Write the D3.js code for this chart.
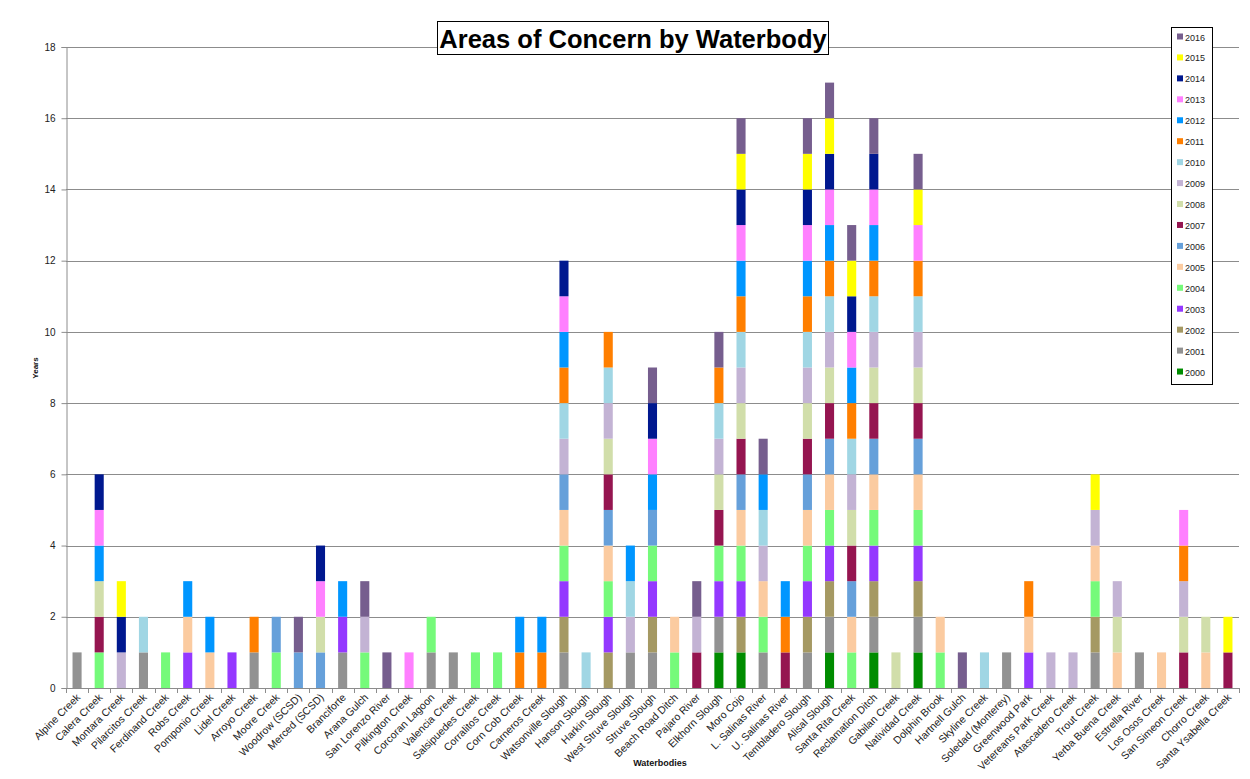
<!DOCTYPE html>
<html><head><meta charset="utf-8">
<script src="https://cdn.jsdelivr.net/npm/d3@7"></script>
<style>
html,body{margin:0;padding:0;background:#fff;}
svg{display:block;font-family:"Liberation Sans",Arial,sans-serif;}
</style></head>
<body><svg id="chart" width="1250" height="779"></svg>
<script>
const waterbodies = ["Alpine Creek","Calera Creek","Montara Creek","Pilarcitos Creek","Ferdinand Creek","Robs Creek","Pomponio Creek","Lidel Creek","Arroyo Creek","Moore Creek","Woodrow (SCSD)","Merced (SCSD)","Branciforte","Arana Gulch","San Lorenzo River","Pilkington Creek","Corcoran Lagoon","Valencia Creek","Salsipuedes Creek","Corralitos Creek","Corn Cob Creek","Carneros Creek","Watsonville Slough","Hanson Slough","Harkin Slough","West Struve Slough","Struve Slough","Beach Road Ditch","Pajaro River","Elkhorn Slough","Moro Cojo","L. Salinas River","U. Salinas River","Tembladero Slough","Alisal Slough","Santa Rita Creek","Reclamation Ditch","Gabilan Creek","Natividad Creek","Dolphin Brook","Hartnell Gulch","Skyline Creek","Soledad (Monterey)","Greenwood Park","Vetereans Park Creek","Atascadero Creek","Trout Creek","Yerba Buena Creek","Estrella River","Los Osos Creek","San Simeon Creek","Chorro Creek","Santa Ysabella Creek"];

const years = ["2000","2001","2002","2003","2004","2005","2006","2007","2008","2009","2010","2011","2012","2013","2014","2015","2016"];

const yearColors = ["#008c00","#929292","#a59963","#9438ff","#75fa7a","#fbcba0","#66a0da","#951550","#d1deaa","#c3b3d4","#a0d6e4","#ff7f00","#0096ff","#ff80ff","#00188f","#ffff00","#765e8e"];

// Years of concern listed for each waterbody (each counts 1 year)
const yearsOfConcern = [
  [2001],
  [2004,2007,2008,2012,2013,2014],
  [2009,2014,2015],
  [2001,2010],
  [2004],
  [2003,2005,2012],
  [2005,2012],
  [2003],
  [2001,2011],
  [2004,2006],
  [2006,2016],
  [2006,2008,2013,2014],
  [2001,2003,2012],
  [2004,2009,2016],
  [2016],
  [2013],
  [2001,2004],
  [2001],
  [2004],
  [2004],
  [2011,2012],
  [2011,2012],
  [2001,2002,2003,2004,2005,2006,2009,2010,2011,2012,2013,2014],
  [2010],
  [2002,2003,2004,2005,2006,2007,2008,2009,2010,2011],
  [2001,2009,2010,2012],
  [2001,2002,2003,2004,2006,2012,2013,2014,2016],
  [2004,2005],
  [2007,2009,2016],
  [2000,2001,2003,2004,2007,2008,2009,2010,2011,2016],
  [2000,2002,2003,2004,2005,2006,2007,2008,2009,2010,2011,2012,2013,2014,2015,2016],
  [2001,2004,2005,2009,2010,2012,2016],
  [2007,2011,2012],
  [2001,2002,2003,2004,2005,2006,2007,2008,2009,2010,2011,2012,2013,2014,2015,2016],
  [2000,2001,2002,2003,2004,2005,2006,2007,2008,2009,2010,2011,2012,2013,2014,2015,2016],
  [2004,2005,2006,2007,2008,2009,2010,2011,2012,2013,2014,2015,2016],
  [2000,2001,2002,2003,2004,2005,2006,2007,2008,2009,2010,2011,2012,2013,2014,2016],
  [2008],
  [2000,2001,2002,2003,2004,2005,2006,2007,2008,2009,2010,2011,2013,2015,2016],
  [2004,2005],
  [2016],
  [2010],
  [2001],
  [2003,2005,2011],
  [2009],
  [2009],
  [2001,2002,2004,2005,2009,2015],
  [2005,2008,2009],
  [2001],
  [2005],
  [2007,2008,2009,2011,2013],
  [2005,2008],
  [2007,2015]
];

const yTicks = [0,2,4,6,8,10,12,14,16,18];

// Build table for d3.stack
const table = waterbodies.map((w,i) => {
  const row = {name: w};
  years.forEach(y => row[y] = yearsOfConcern[i].includes(+y) ? 1 : 0);
  return row;
});
const stacked = d3.stack().keys(years)(table);

const svg = d3.select("#chart");
const m = {left:66, right:1239, top:47, bottom:688};

const x = d3.scaleBand().domain(waterbodies).range([m.left, m.right]).paddingInner(0.59).paddingOuter(0.295);
const y = d3.scaleLinear().domain([0,18]).range([m.bottom, m.top]);
const color = d3.scaleOrdinal().domain(years).range(yearColors);

// gridlines
svg.append("g").selectAll("line").data(yTicks.filter(d=>d>0)).join("line")
  .attr("x1", m.left).attr("x2", m.right)
  .attr("y1", d=>Math.round(y(d))+0.5).attr("y2", d=>Math.round(y(d))+0.5)
  .attr("stroke","#8c8c8c").attr("stroke-width",1);

// bars
svg.append("g").selectAll("g").data(stacked).join("g")
  .attr("fill", d=>color(d.key))
  .selectAll("rect").data(d=>d.filter(s=>s[1]-s[0]>0)).join("rect")
  .attr("x", d=>x(d.data.name))
  .attr("width", x.bandwidth())
  .attr("y", d=>y(d[1]))
  .attr("height", d=>y(d[0])-y(d[1]));

// y axis
const yAxis = d3.axisLeft(y).tickValues(yTicks).tickSize(5).tickPadding(6);
const gy = svg.append("g").attr("transform",`translate(${m.left+0.5},0)`).call(yAxis);
gy.select(".domain").attr("stroke","#8c8c8c");
gy.selectAll(".tick line").attr("stroke","#8c8c8c");
gy.selectAll("text").attr("font-size",10).attr("fill","#222").attr("font-family","Liberation Sans, Arial, sans-serif");

// x axis line and ticks between categories
const xStart = m.left;
svg.append("line").attr("x1",m.left).attr("x2",m.right).attr("y1",m.bottom+0.5).attr("y2",m.bottom+0.5).attr("stroke","#8c8c8c");
svg.append("g").selectAll("line").data(d3.range(waterbodies.length+1)).join("line")
  .attr("x1", i=>Math.round(xStart + i*(m.right-m.left)/waterbodies.length)+0.5)
  .attr("x2", i=>Math.round(xStart + i*(m.right-m.left)/waterbodies.length)+0.5)
  .attr("y1", m.bottom).attr("y2", m.bottom+5)
  .attr("stroke","#8c8c8c");

// x labels rotated
svg.append("g").selectAll("text").data(waterbodies).join("text")
  .attr("transform", d=>`translate(${x(d)+x.bandwidth()/2+4},${m.bottom+10}) rotate(-45)`)
  .attr("text-anchor","end")
  .attr("font-size",10.5)
  .attr("fill","#222")
  .text(d=>d);

// axis titles
svg.append("text").attr("x",660).attr("y",766).attr("text-anchor","middle")
  .attr("font-size",9).attr("font-weight","bold").attr("fill","#111").text("Waterbodies");
svg.append("text").attr("transform","translate(38,368) rotate(-90)").attr("text-anchor","middle")
  .attr("font-size",8).attr("font-weight","bold").attr("fill","#111").text("Years");

// title
const tg = svg.append("g");
tg.append("rect").attr("x",437.5).attr("y",21.5).attr("width",391).attr("height",33)
  .attr("fill","#fff").attr("stroke","#000").attr("stroke-width",1);
tg.append("text").attr("x",633).attr("y",47.5).attr("text-anchor","middle")
  .attr("font-size",25.5).attr("font-weight","bold").attr("fill","#000")
  .text("Areas of Concern by Waterbody");

// legend
const lg = svg.append("g");
lg.append("rect").attr("x",1171.5).attr("y",27.5).attr("width",41).attr("height",357)
  .attr("fill","#fff").attr("stroke","#000").attr("stroke-width",1);
const legYears = years.slice().reverse();
const li = lg.selectAll("g").data(legYears).join("g")
  .attr("transform",(d,i)=>`translate(1177,${37 + i*20.94})`);
li.append("rect").attr("x",0).attr("y",-3.5).attr("width",6).attr("height",6).attr("fill",d=>color(d));
li.append("text").attr("x",8).attr("y",3.5).attr("font-size",9).attr("fill","#222").text(d=>d);
</script>
</body></html>
